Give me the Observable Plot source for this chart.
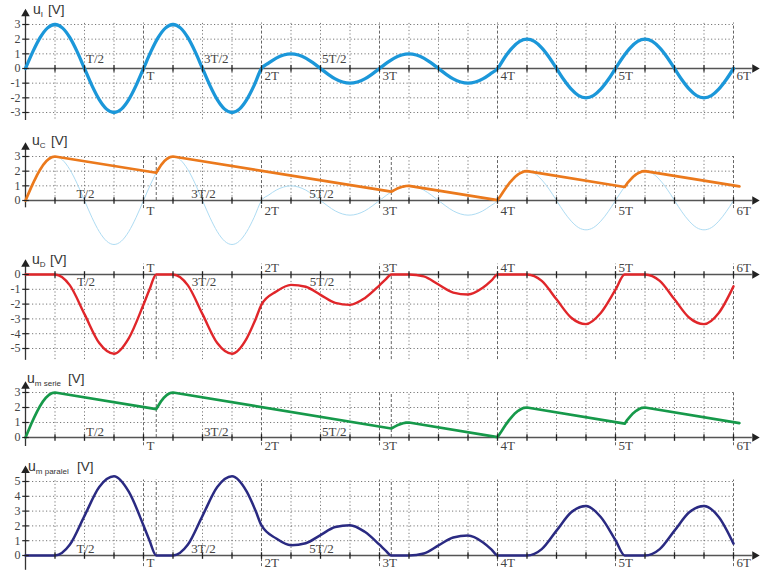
<!DOCTYPE html>
<html><head><meta charset="utf-8">
<script src="https://cdn.jsdelivr.net/npm/d3@7"></script>
<script src="https://cdn.jsdelivr.net/npm/@observablehq/plot@0.6"></script>
<style>
html,body{margin:0;padding:0;background:#fff;overflow:hidden;}
#chart svg{display:block;}
</style>
</head><body><div id="chart"></div>
<script>
// ---------- data (time in units of the period T) ----------
const tI = [0,0.0625,0.125,0.1875,0.25,0.3125,0.375,0.4375,0.5,0.5625,0.625,0.6875,0.75,0.8125,0.875,0.9375,
  1,1.0625,1.125,1.1875,1.25,1.3125,1.375,1.4375,1.5,1.5625,1.625,1.6875,1.75,1.8125,1.875,1.9375,
  2,2.0625,2.125,2.1875,2.25,2.3125,2.375,2.4375,2.5,2.5625,2.625,2.6875,2.75,2.8125,2.875,2.9375,
  3,3.0625,3.125,3.1875,3.25,3.3125,3.375,3.4375,3.5,3.5625,3.625,3.6875,3.75,3.8125,3.875,3.9375,
  4,4.0625,4.125,4.1875,4.25,4.3125,4.375,4.4375,4.5,4.5625,4.625,4.6875,4.75,4.8125,4.875,4.9375,
  5,5.0625,5.125,5.1875,5.25,5.3125,5.375,5.4375,5.5,5.5625,5.625,5.6875,5.75,5.8125,5.875,5.9375,6];
const uI = [0,1.15,2.12,2.77,3,2.77,2.12,1.15,0,-1.15,-2.12,-2.77,-3,-2.77,-2.12,-1.15,
  0,1.15,2.12,2.77,3,2.77,2.12,1.15,0,-1.15,-2.12,-2.77,-3,-2.77,-2.12,-1.15,
  0,0.38,0.71,0.92,1,0.92,0.71,0.38,0,-0.38,-0.71,-0.92,-1,-0.92,-0.71,-0.38,
  0,0.38,0.71,0.92,1,0.92,0.71,0.38,0,-0.38,-0.71,-0.92,-1,-0.92,-0.71,-0.38,
  0,0.77,1.41,1.85,2,1.85,1.41,0.77,0,-0.77,-1.41,-1.85,-2,-1.85,-1.41,-0.77,
  0,0.77,1.41,1.85,2,1.85,1.41,0.77,0,-0.77,-1.41,-1.85,-2,-1.85,-1.41,-0.77,0];

const tC = [0,0.025,0.05,0.075,0.1,0.125,0.15,0.175,0.2,0.225,0.25,1.108,1.125,1.15,1.175,1.2,1.225,1.25,3.1,3.125,3.15,3.175,3.2,3.225,3.25,4.0,4.025,4.05,4.075,4.1,4.125,4.15,4.175,4.2,4.225,4.25,5.078,5.1,5.125,5.15,5.175,5.2,5.225,5.25,6.05];
const uC = [0,0.47,0.93,1.36,1.76,2.12,2.43,2.67,2.85,2.96,3,1.89,2.12,2.43,2.67,2.85,2.96,3,0.6,0.71,0.81,0.89,0.95,0.99,1,0.02,0.31,0.62,0.91,1.18,1.41,1.62,1.78,1.9,1.98,2,0.92,1.18,1.41,1.62,1.78,1.9,1.98,2,0.96];

const tD = [0,0.25,0.375,0.5,0.625,0.75,0.875,1,1.05,1.108,1.25,1.375,1.5,1.625,1.75,1.875,1.95,2,2.125,2.25,2.375,2.5,2.625,2.75,2.875,3,3.05,3.1,3.25,3.375,3.5,3.625,3.75,3.875,3.95,4,4.25,4.375,4.5,4.625,4.75,4.875,5,5.078,5.25,5.375,5.5,5.625,5.75,5.875,6];
const uD = [0,0,-0.72,-2.68,-4.63,-5.35,-4.31,-2.03,-1.03,0,0,-0.72,-2.68,-4.63,-5.35,-4.31,-3.02,-2.03,-1.15,-0.7,-0.83,-1.38,-1.92,-2.05,-1.6,-0.73,-0.35,0,0,-0.13,-0.68,-1.22,-1.35,-0.9,-0.4,0,0,-0.43,-1.68,-2.92,-3.35,-2.6,-1.03,0,0,-0.43,-1.68,-2.92,-3.35,-2.6,-0.8];

const tSerie = tC;
const umSerie = uC;

const tParalel = tD;
const umParalel = [0,0,0.72,2.68,4.63,5.35,4.31,2.03,1.03,0,0,0.72,2.68,4.63,5.35,4.31,3.02,2.03,1.15,0.7,0.83,1.38,1.92,2.05,1.6,0.73,0.35,0,0,0.13,0.68,1.22,1.35,0.9,0.4,0,0,0.43,1.68,2.92,3.35,2.6,1.03,0,0,0.43,1.68,2.92,3.35,2.6,0.8];

const halfLabels = [{t:0.5,label:"T/2"},{t:1.5,label:"3T/2"},{t:2.5,label:"5T/2"}];
const intLabels = [{t:1,label:"T"},{t:2,label:"2T"},{t:3,label:"3T"},{t:4,label:"4T"},{t:5,label:"5T"},{t:6,label:"6T"}];
const chargeStarts = [1.108, 3.1];

// ---------- helpers ----------
const rows = (ts, vs) => ts.map((t, i) => ({t, v: vs[i]}));
const tickT = d3.range(0.25, 6.001, 0.25);
const quarterT = tickT.filter(t => Math.abs(t - Math.round(t)) > 1e-6);
const periodT = [1,2,3,4,5,6];
const serif = "'Liberation Serif','DejaVu Serif',serif";
const sans = "'Liberation Sans',Arial,sans-serif";

const vTick = {draw(ctx, size){ const r = Math.sqrt(size/Math.PI); ctx.moveTo(0,-r); ctx.lineTo(0,r); }};
const hTick = {draw(ctx, size){ const r = Math.sqrt(size/Math.PI); ctx.moveTo(-r,0); ctx.lineTo(r,0); }};

const dotted = {stroke:"#6a6a6a", strokeWidth:0.9, strokeDasharray:"1.2,2.3"};
const dashed = {stroke:"#555", strokeWidth:0.9, strokeDasharray:"3,2"};

const BLUE = "#1b97d9", FAINT = "#aedcf3", ORANGE = "#eb791c", RED = "#e0262a", GREEN = "#16994a", NAVY = "#2a2a82";

const panels = [
  {height:120, mt:24, mb:8, domain:[-3,3], yTicks:[-3,-2,-1,0,1,2,3], grid:[-3.45,3.1], intDash:[-3.45,3.1], extra:null, yAxis:[-3.6,3.73],
   half:{below:false, anchor:"start", dx:1.5, dy:-6}, ints:{below:true, dy:2},
   label:{sub:"I", ux:33, uy:14, vx:48},
   series:[{rows:rows(tI,uI), stroke:BLUE, w:3.3, curve:"monotone-x"}]},
  {height:130, mt:36, mb:50, domain:[0,3], yTicks:[0,1,2,3], grid:[0,3], intDash:[-0.55,3], extra:[0,3], yAxis:[-0.5,3.63],
   half:{below:false, anchor:"middle", dx:1, dy:-3}, ints:{below:true, dy:5},
   label:{sub:"C", ux:32, uy:25, vx:51},
   series:[{rows:rows(tI,uI), stroke:FAINT, w:1, curve:"monotone-x"},{rows:rows(tC,uC), stroke:ORANGE, w:2.7, curve:"linear"}]},
  {height:110, mt:24, mb:12, domain:[-5,0], yTicks:[-5,-4,-3,-2,-1,0], grid:[-5.75,0], intDash:[-5.75,0.7], extra:[-5.75,0], yAxis:[-5.8,0.69],
   half:{below:true, anchor:"middle", dx:1.5, dy:2.5}, ints:{below:false, dy:-3},
   label:{sub:"D", ux:32, uy:14, vx:50},
   series:[{rows:rows(tD,uD), stroke:RED, w:2.4, curve:"monotone-x"}]},
  {height:90, mt:32, mb:13, domain:[0,3], yTicks:[0,1,2,3], grid:[0,3], intDash:[-0.55,3], extra:[0,3], yAxis:[-0.6,3.42],
   half:{below:false, anchor:"start", dx:1.5, dy:-2}, ints:{below:true, dy:3},
   label:{sub:"m serie", ux:27, uy:23, vx:68},
   series:[{rows:rows(tSerie,umSerie), stroke:GREEN, w:2.7, curve:"linear"}]},
  {height:120, mt:31, mb:15, domain:[0,5], yTicks:[0,1,2,3,4,5], grid:[0,5.1], intDash:[-0.75,5.1], extra:[0,5.1], yAxis:[-1.0,5.74],
   half:{below:false, anchor:"middle", dx:1, dy:-3}, ints:{below:true, dy:2},
   label:{sub:"m paralel", ux:28, uy:21, vx:77},
   series:[{rows:rows(tParalel,umParalel), stroke:NAVY, w:2.5, curve:"monotone-x"}]}
];

function panel(p) {
  const marks = [
    Plot.ruleY(p.yTicks.filter(v => v !== 0), {x1:0, x2:6, ...dotted}),
    Plot.ruleX(quarterT, {y1:p.grid[0], y2:p.grid[1], ...dotted}),
    Plot.ruleX(periodT, {y1:p.intDash[0], y2:p.intDash[1], ...dashed})
  ];
  if (p.extra) marks.push(Plot.ruleX(chargeStarts, {y1:p.extra[0], y2:p.extra[1], ...dashed}));
  marks.push(
    Plot.ruleY([0], {x1:0, x2:6.16, stroke:"#555", strokeWidth:1.7}),
    Plot.ruleX([0], {y1:p.yAxis[0], y2:p.yAxis[1], stroke:"#333", strokeWidth:1.3}),
    Plot.dot([0], {x:6.18, y:0, symbol:"triangle", rotate:90, r:3.2, fill:"#222", stroke:"none"}),
    Plot.dot([0], {x:0, y:p.yAxis[1], symbol:"triangle", r:3.2, fill:"#222", stroke:"none"})
  );
  for (const s of p.series) {
    marks.push(Plot.line(s.rows, {x:"t", y:"v", stroke:s.stroke, strokeWidth:s.w, curve:s.curve, strokeLinejoin:"round", strokeLinecap:"round"}));
  }
  marks.push(
    Plot.dot(tickT, {x:d => d, y:0, symbol:vTick, r:3.3, stroke:"#222", strokeWidth:1.3, fill:"none"}),
    Plot.dot(p.yTicks, {x:0, y:d => d, symbol:hTick, r:3.3, stroke:"#222", strokeWidth:1.2, fill:"none"}),
    Plot.text(p.yTicks, {x:0, y:d => d, text:d => String(d), dx:-5, textAnchor:"end", lineAnchor:"middle", fontFamily:serif, fontSize:12, fill:"#444"}),
    Plot.text(halfLabels, {x:"t", y:0, text:"label", textAnchor:p.half.anchor, dx:p.half.dx, dy:p.half.dy,
      lineAnchor:p.half.below ? "top" : "bottom", fontFamily:serif, fontSize:13, fill:"#444"}),
    Plot.text(intLabels, {x:"t", y:0, text:"label", textAnchor:"start", dx:3, dy:p.ints.dy,
      lineAnchor:p.ints.below ? "top" : "bottom", fontFamily:serif, fontSize:13, fill:"#444"}),
    Plot.text(["t"], {x:6.25, y:0, text:d => d, textAnchor:"start", dy:-4, lineAnchor:"bottom", fontFamily:serif, fontSize:13, fill:"#444"})
  );
  const svg = Plot.plot({
    width:763, height:p.height,
    marginLeft:25, marginRight:30, marginTop:p.mt, marginBottom:p.mb,
    x:{domain:[0,6], axis:null},
    y:{domain:p.domain, axis:null},
    style:{background:"white", overflow:"hidden"},
    marks
  });
  const g = d3.select(svg);
  const t = g.append("text").attr("x", p.label.ux).attr("y", p.label.uy).attr("text-anchor", "start")
    .attr("font-family", sans).attr("font-size", 14).attr("fill", "#333");
  t.append("tspan").text("u");
  t.append("tspan").attr("font-size", 8).attr("dy", 3).text(p.label.sub);
  g.append("text").attr("x", p.label.vx).attr("y", p.label.uy).attr("text-anchor", "start")
    .attr("font-family", sans).attr("font-size", 13.5).attr("fill", "#333").text("[V]");
  return svg;
}

const root = document.getElementById("chart");
for (const p of panels) root.appendChild(panel(p));
</script>
</body></html>
